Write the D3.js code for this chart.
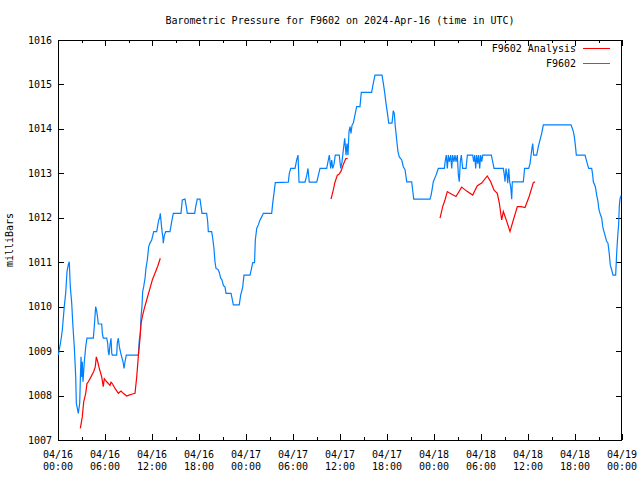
<!DOCTYPE html>
<html>
<head>
<meta charset="utf-8">
<script src="https://cdn.jsdelivr.net/npm/d3@7"></script>
<style>
  html, body { margin: 0; padding: 0; background: #fff; }
  svg { display: block; }
  text { font-family: "DejaVu Sans Mono", "Liberation Mono", monospace; font-size: 10px; fill: #000; }
</style>
</head>
<body>
<svg id="chart" width="640" height="480"></svg>
<script>
// ---- Data (hours since 2024-04-16 00:00 UTC, pressure in millibars) ----
const titleText = "Barometric Pressure for F9602 on 2024-Apr-16 (time in UTC)";
const yLabelText = "milliBars";
const seriesNames = ["F9602 Analysis", "F9602"];
const yTicks = [1007, 1008, 1009, 1010, 1011, 1012, 1013, 1014, 1015, 1016];
const xTickHours = [0, 6, 12, 18, 24, 30, 36, 42, 48, 54, 60, 66, 72];

const stationHours = [
  0.04,0.38,0.55,0.80,0.98,1.15,1.31,1.44,1.57,1.75,1.91,2.08,2.26,2.34,2.51,2.59,2.77,2.85,2.94,3.03,3.10,3.19,3.36,3.54,3.70,4.51,4.63,4.81,4.94,5.07,5.14,5.58,5.66,5.78,6.22,6.34,6.42,6.51,6.64,6.77,6.86,6.93,7.49,7.57,7.70,7.83,8.00,8.13,8.30,8.43,8.55,8.72,10.25,10.38,10.51,10.60,10.72,10.81,10.94,11.11,11.23,11.40,11.58,11.74,11.96,12.22,12.60,12.86,12.98,13.06,13.24,13.40,13.44,13.57,13.75,14.30,14.51,14.72,15.70,15.87,16.21,16.34,16.51,17.45,17.58,17.78,18.13,18.26,18.38,18.98,19.11,19.19,19.62,19.75,19.91,20.04,20.17,20.43,20.59,20.77,20.94,21.11,21.32,21.45,22.09,22.21,22.38,23.14,23.32,23.58,23.74,24.51,24.68,24.86,25.09,25.19,25.37,25.57,25.79,26.00,26.21,27.28,27.41,27.57,27.74,29.40,29.53,29.71,30.26,30.47,30.64,30.77,31.53,31.75,31.91,32.08,33.03,33.23,33.45,34.30,34.51,34.64,34.81,34.94,35.07,35.23,35.40,35.91,36.09,36.26,36.42,36.60,36.77,36.89,37.02,37.15,37.28,37.40,37.53,37.70,37.91,38.13,38.55,38.72,40.04,40.25,40.47,41.36,41.53,41.70,41.87,42.04,42.22,42.64,42.80,42.93,43.06,43.24,43.40,43.57,43.88,44.08,44.30,44.52,45.15,45.28,45.41,47.49,47.62,47.78,47.91,48.26,48.55,49.32,49.45,49.57,49.70,49.83,49.96,50.13,50.26,50.38,50.55,50.68,50.81,50.98,51.11,51.23,51.36,51.49,51.66,52.09,52.26,52.94,53.07,53.20,53.32,53.45,53.58,53.71,53.83,53.96,54.09,54.22,55.32,55.50,55.66,56.85,56.98,57.07,57.19,57.32,57.41,57.54,57.66,57.79,57.92,58.00,59.40,59.57,60.09,60.26,60.47,60.60,60.72,61.11,61.32,61.53,61.75,61.96,65.49,65.66,65.79,65.92,66.04,66.17,67.28,67.40,67.57,67.75,68.13,68.26,68.34,68.60,68.77,68.94,69.03,69.19,69.41,69.54,69.70,69.87,70.04,70.21,70.37,70.50,70.68,70.85,71.19,71.32,71.45,71.57,71.65,71.74,71.87
];
const stationValues = [
  1008.91,1009.25,1009.47,1010.00,1010.30,1010.79,1010.94,1011.01,1010.45,1010.08,1009.55,1009.10,1008.42,1007.83,1007.67,1007.60,1007.83,1008.35,1008.87,1008.42,1008.76,1008.31,1008.76,1009.10,1009.29,1009.29,1009.55,1010.00,1009.90,1009.74,1009.61,1009.61,1009.40,1009.29,1009.29,1009.18,1008.99,1008.91,1009.14,1009.29,1008.96,1008.91,1008.91,1009.18,1009.29,1009.10,1008.96,1008.87,1008.76,1008.61,1008.76,1008.91,1008.91,1009.25,1009.40,1009.78,1010.00,1010.34,1010.45,1010.64,1010.86,1011.05,1011.35,1011.43,1011.50,1011.69,1011.69,1011.95,1012.00,1012.10,1011.76,1011.54,1011.43,1011.60,1011.69,1011.69,1011.91,1012.10,1012.10,1012.40,1012.42,1012.29,1012.10,1012.10,1012.25,1012.42,1012.42,1012.25,1012.10,1012.10,1011.91,1011.69,1011.69,1011.54,1011.31,1011.01,1010.86,1010.84,1010.77,1010.64,1010.60,1010.48,1010.44,1010.30,1010.30,1010.20,1010.04,1010.04,1010.26,1010.44,1010.71,1010.71,1010.84,1010.99,1010.99,1011.50,1011.76,1011.84,1011.95,1012.02,1012.10,1012.10,1012.33,1012.55,1012.79,1012.80,1013.00,1013.11,1013.11,1013.30,1013.41,1012.80,1012.80,1012.95,1013.11,1012.80,1012.80,1012.95,1013.11,1013.11,1013.30,1013.41,1013.11,1013.30,1013.11,1013.20,1013.41,1013.41,1013.11,1013.26,1013.52,1013.79,1013.41,1013.67,1013.41,1013.94,1014.05,1013.90,1014.08,1014.13,1014.31,1014.50,1014.50,1014.82,1014.82,1015.03,1015.21,1015.21,1015.03,1014.82,1014.58,1014.37,1014.13,1014.13,1014.41,1014.35,1014.05,1013.75,1013.49,1013.37,1013.30,1013.15,1013.08,1012.81,1012.81,1012.62,1012.42,1012.42,1012.50,1012.66,1012.81,1012.96,1013.11,1013.11,1013.30,1013.41,1013.11,1013.41,1013.26,1013.41,1013.11,1013.41,1013.26,1013.41,1013.26,1013.41,1012.96,1012.81,1013.26,1013.41,1013.11,1013.11,1013.41,1013.41,1013.26,1013.41,1013.11,1013.41,1013.22,1013.41,1013.11,1013.41,1013.26,1013.41,1013.41,1013.26,1013.11,1013.11,1012.96,1012.81,1013.11,1012.96,1012.78,1013.11,1012.81,1012.70,1012.42,1012.81,1012.81,1013.11,1013.11,1013.22,1013.52,1013.67,1013.41,1013.41,1013.60,1013.75,1013.90,1014.09,1014.09,1014.01,1013.94,1013.82,1013.64,1013.41,1013.41,1013.33,1013.22,1013.11,1013.11,1012.96,1012.81,1012.70,1012.51,1012.36,1012.21,1012.10,1011.99,1011.80,1011.69,1011.58,1011.47,1011.43,1011.20,1010.94,1010.83,1010.71,1010.71,1011.20,1011.58,1011.85,1012.25,1012.42,1012.50
];

// Analysis series; null marks a gap between segments
const analysisHours = [
  2.85,3.10,3.28,3.54,3.70,3.87,4.21,4.56,4.76,4.89,5.07,5.32,5.58,5.78,5.91,6.22,6.64,6.77,6.93,7.28,7.70,8.04,8.34,8.77,9.06,9.41,9.83,10.05,10.25,10.47,10.60,10.76,11.02,11.32,11.74,12.04,12.38,12.73,13.06,
  null,
  34.85,35.11,35.36,35.66,35.87,36.13,36.42,36.73,36.98,
  null,
  48.77,49.11,49.40,49.70,50.26,50.81,51.53,52.17,52.94,53.53,54.09,54.80,55.24,55.66,56.08,56.34,56.64,56.85,57.07,57.36,57.70,58.13,58.64,59.11,59.62,60.17,60.68,60.89
];
const analysisValues = [
  1007.26,1007.52,1007.86,1008.05,1008.27,1008.31,1008.42,1008.54,1008.65,1008.87,1008.76,1008.58,1008.42,1008.20,1008.38,1008.31,1008.23,1008.30,1008.27,1008.16,1008.05,1008.10,1008.05,1007.99,1008.01,1008.03,1008.05,1008.42,1008.87,1009.29,1009.62,1009.77,1009.96,1010.15,1010.41,1010.60,1010.75,1010.91,1011.09,
  null,
  1012.42,1012.60,1012.80,1012.96,1012.98,1013.05,1013.20,1013.33,1013.34,
  null,
  1011.99,1012.25,1012.40,1012.59,1012.53,1012.48,1012.69,1012.60,1012.51,1012.72,1012.78,1012.94,1012.81,1012.62,1012.55,1012.33,1011.95,1012.14,1012.03,1011.88,1011.69,1011.95,1012.25,1012.25,1012.23,1012.49,1012.79,1012.81
];

// ---- Rendering ----
const startMs = Date.UTC(2024, 3, 16, 0, 0);
const toDate = h => new Date(startMs + h * 3600000);

const svg = d3.select("#chart");
const W = 640, H = 480;
const m = { left: 58, right: 18, top: 40, bottom: 40 };
const x0 = m.left, x1 = W - m.right, y0 = m.top, y1 = H - m.bottom;

const x = d3.scaleUtc().domain([toDate(0), toDate(72)]).range([x0, x1]);
const y = d3.scaleLinear().domain([1007, 1016]).range([y1, y0]);

svg.append("rect").attr("width", W).attr("height", H).attr("fill", "#fff");

// Title
svg.append("text").attr("x", (x0 + x1) / 2).attr("y", 24)
  .attr("text-anchor", "middle").text(titleText);

// Y label
svg.append("text").attr("transform", `translate(13,${(y0 + y1) / 2}) rotate(-90)`)
  .attr("text-anchor", "middle").text(yLabelText);

const majorLen = 6, minorLen = 3;
const axG = svg.append("g").attr("shape-rendering", "crispEdges");

// Y axis (left, ticks inward) and mirrored right ticks
const yAxisL = d3.axisRight(y).tickValues(yTicks).tickSize(majorLen).tickFormat("");
const gyl = axG.append("g").attr("transform", `translate(${x0},0)`).call(yAxisL);
gyl.select(".domain").remove();
const yAxisR = d3.axisLeft(y).tickValues(yTicks).tickSize(majorLen).tickFormat("");
const gyr = axG.append("g").attr("transform", `translate(${x1},0)`).call(yAxisR);
gyr.select(".domain").remove();

// Y tick labels
svg.append("g").selectAll("text").data(yTicks).join("text")
  .attr("x", x0 - 6).attr("y", d => y(d) + 3.5)
  .attr("text-anchor", "end").text(d => d3.format("d")(d));

// X axis ticks: major every 6h, minor every 3h, bottom and top (inward)
const majorDates = xTickHours.map(toDate);
const minorDates = xTickHours.slice(0, -1).map(h => toDate(h + 3));
const mkX = (axisFn, dates, len, yPos) => {
  const g = axG.append("g").attr("transform", `translate(0,${yPos})`)
    .call(axisFn(x).tickValues(dates).tickSize(len).tickFormat(""));
  g.select(".domain").remove();
};
mkX(d3.axisTop, majorDates, majorLen, y1);
mkX(d3.axisTop, minorDates, minorLen, y1);
mkX(d3.axisBottom, majorDates, majorLen, y0);
mkX(d3.axisBottom, minorDates, minorLen, y0);

// X tick labels (two lines)
const fmtDate = d3.utcFormat("%m/%d"), fmtTime = d3.utcFormat("%H:%M");
const xl = svg.append("g").selectAll("g").data(majorDates).join("g")
  .attr("transform", d => `translate(${x(d)},0)`);
xl.append("text").attr("y", y1 + 17.5).attr("text-anchor", "middle").text(fmtDate);
xl.append("text").attr("y", y1 + 30).attr("text-anchor", "middle").text(fmtTime);

// Border
axG.append("rect").attr("x", x0 + 0.5).attr("y", y0 + 0.5)
  .attr("width", x1 - x0 - 1).attr("height", y1 - y0)
  .attr("fill", "none").attr("stroke", "#000");

// Lines
const colors = ["#ff0000", "#0080ff"];
const line = d3.line()
  .defined(d => d[0] !== null && d[1] !== null)
  .x(d => x(toDate(d[0]))).y(d => y(d[1]));

const plotG = svg.append("g");
plotG.append("path")
  .datum(stationHours.map((h, i) => [h, stationValues[i]]))
  .attr("d", line).attr("fill", "none").attr("stroke", colors[1]).attr("stroke-width", 1.2);
plotG.append("path")
  .datum(analysisHours.map((h, i) => [h, analysisValues[i]]))
  .attr("d", line).attr("fill", "none").attr("stroke", colors[0]).attr("stroke-width", 1.2);

// Legend
const leg = svg.append("g");
seriesNames.forEach((name, i) => {
  const ly = 48 + i * 15;
  leg.append("text").attr("x", 576).attr("y", ly + 3.5).attr("text-anchor", "end").text(name);
  leg.append("line").attr("x1", 583).attr("x2", 610).attr("y1", ly + 0.5).attr("y2", ly + 0.5)
    .attr("stroke", colors[i]).attr("stroke-width", 1.2).attr("shape-rendering", "crispEdges");
});
</script>
</body>
</html>
